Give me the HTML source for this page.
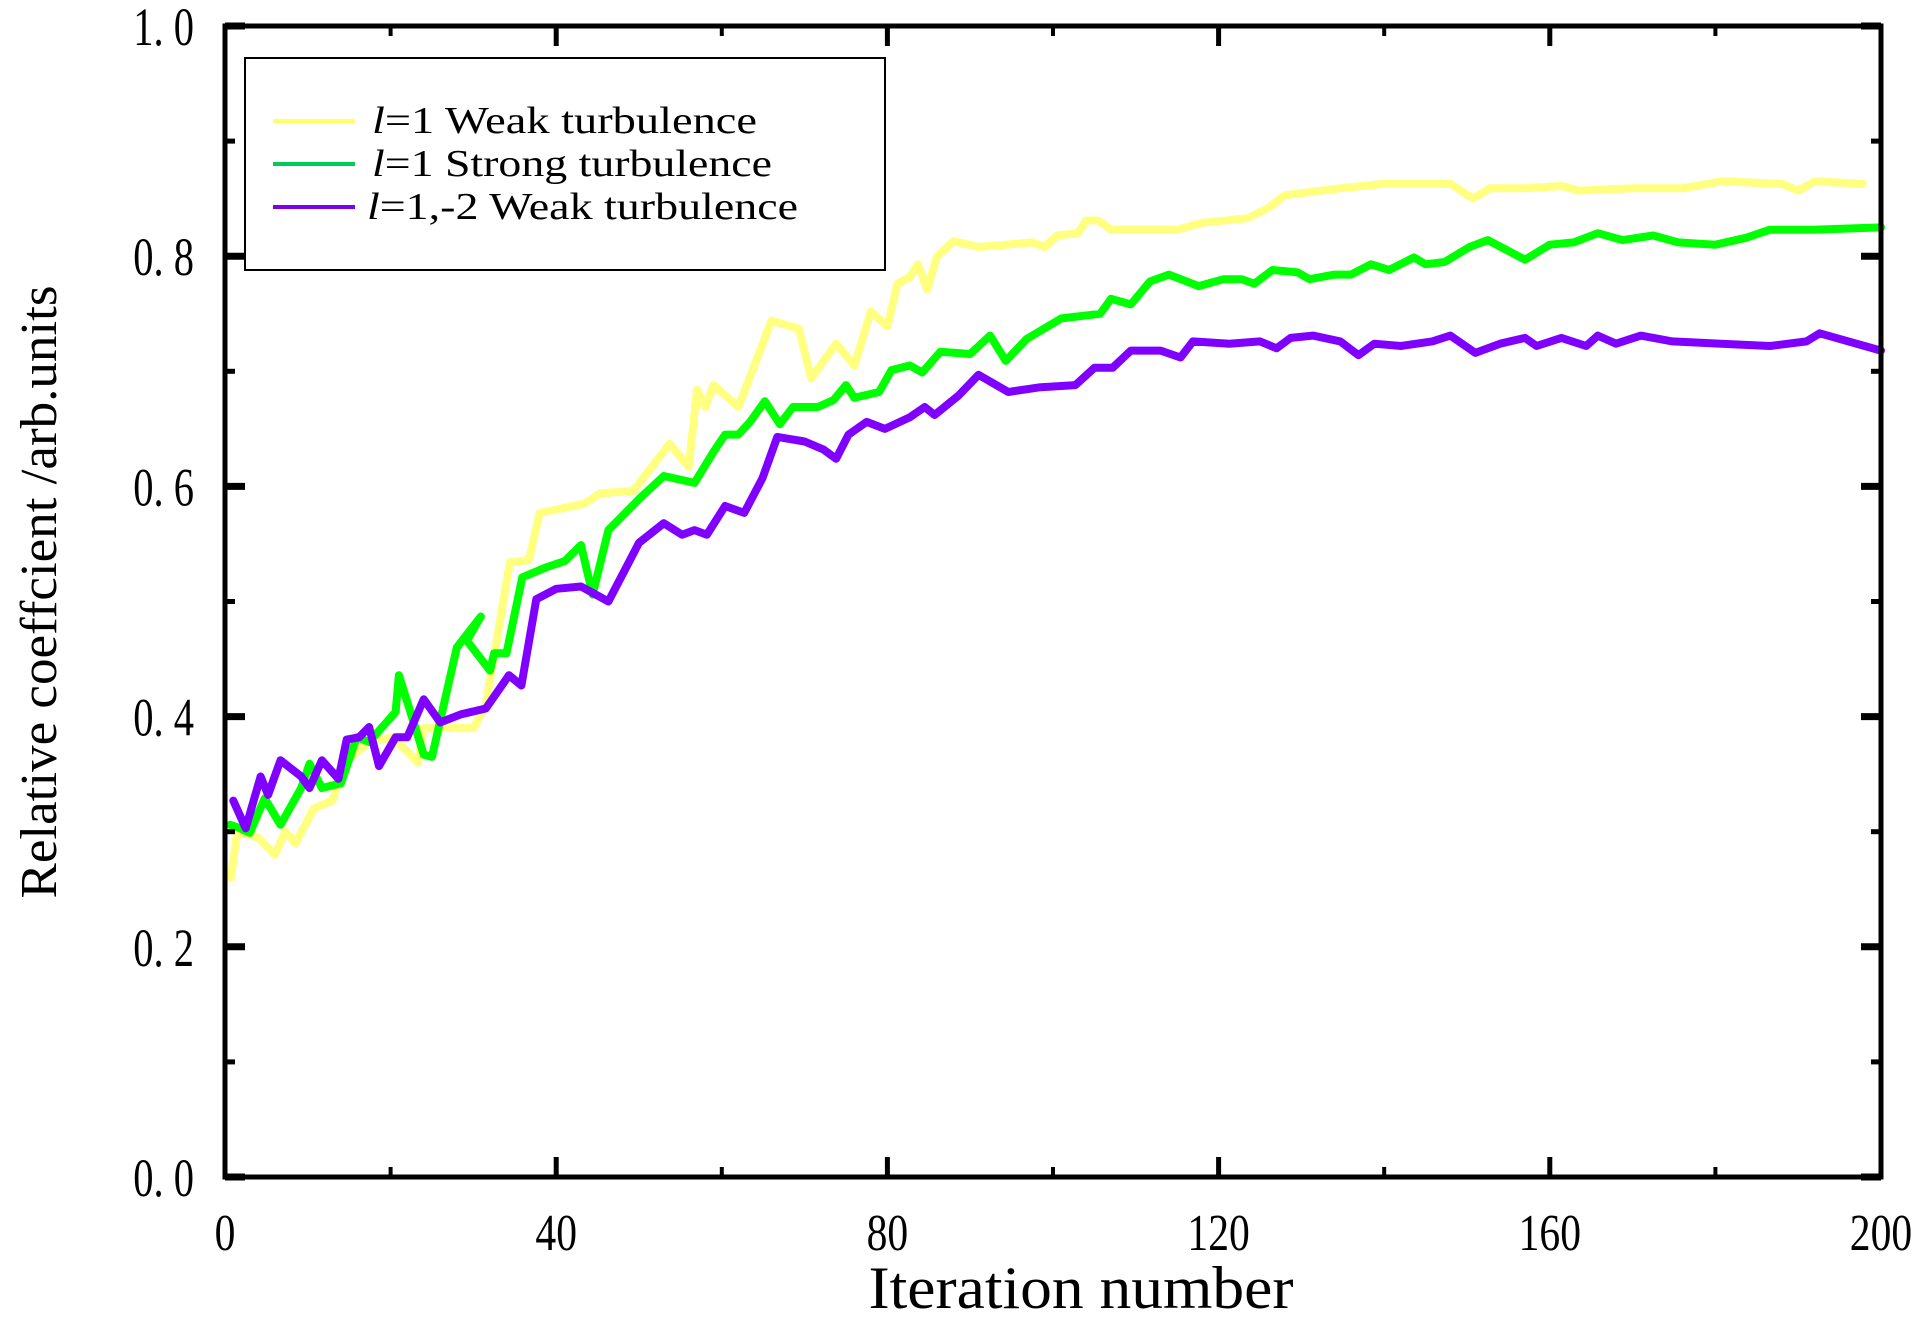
<!DOCTYPE html>
<html><head><meta charset="utf-8"><style>
html,body{margin:0;padding:0;background:#fff;}
svg{display:block;font-family:"Liberation Serif",serif;}
</style></head><body>
<svg id="chart" width="1930" height="1322" viewBox="0 0 1930 1322">
<g id="lines"></g>
<g id="axes"></g>
<g id="legend">
 <rect x="245" y="58" width="640" height="212" fill="#fff" stroke="#000" stroke-width="2"/>
 <line x1="273" y1="121" x2="355" y2="121" stroke="#ffff66" stroke-width="4"/>
 <text x="372" y="133" font-size="38" textLength="385" lengthAdjust="spacingAndGlyphs"><tspan font-style="italic">l</tspan>=1 Weak turbulence</text>
 <line x1="273" y1="164" x2="355" y2="164" stroke="#00cc55" stroke-width="4"/>
 <text x="372" y="176" font-size="38" textLength="400" lengthAdjust="spacingAndGlyphs"><tspan font-style="italic">l</tspan>=1 Strong turbulence</text>
 <line x1="273" y1="207" x2="355" y2="207" stroke="#7a00ee" stroke-width="4"/>
 <text x="367" y="219" font-size="38" textLength="431" lengthAdjust="spacingAndGlyphs"><tspan font-style="italic">l</tspan>=1,-2 Weak turbulence</text>
</g>
<text x="1081" y="1308" font-size="60" textLength="425" lengthAdjust="spacingAndGlyphs" text-anchor="middle">Iteration number</text>
<text transform="translate(56,592) rotate(-90)" font-size="52" textLength="613" lengthAdjust="spacingAndGlyphs" text-anchor="middle">Relative coeffcient /arb.units</text>
</svg>
<script>
const weakX=[0.7,1.5,4,6,7.3,8.5,10.7,13,14.4,17.4,20.3,23.3,24,30,31.5,34.4,36.7,38,43.4,45.3,49.3,53.7,56,57,58,59,62,66,69.3,70.8,73.8,76,78,80,81.2,82.7,83.7,84.8,86,88,91,97.5,99,100.5,103,104,105.5,107,111.7,115,118,123.5,126,128,134.7,140,148,150.7,152.8,157,161.4,163.6,170,176,180.7,188,190,192,197.8];
const weakY=[0.26,0.30,0.295,0.28,0.30,0.29,0.32,0.327,0.36,0.378,0.382,0.36,0.39,0.39,0.41,0.534,0.536,0.577,0.585,0.594,0.596,0.637,0.617,0.684,0.669,0.688,0.669,0.744,0.737,0.694,0.724,0.705,0.752,0.739,0.776,0.782,0.793,0.771,0.80,0.813,0.808,0.812,0.808,0.818,0.82,0.831,0.831,0.823,0.823,0.823,0.829,0.833,0.842,0.853,0.859,0.863,0.863,0.85,0.859,0.859,0.861,0.857,0.859,0.859,0.865,0.863,0.857,0.865,0.863];
const strongX=[0.6,1.8,3,4.8,6.7,9.2,10.2,11.7,14,15.9,17.4,20.6,21,24,25,28,30.9,29.2,32,32.5,34,35.9,38.9,41,43,44.4,46.3,50,53,56.7,59,60.4,62,63.4,65.2,67,68.6,71.6,73.5,75,76,79,80.5,82.7,84.2,86.4,90,92.4,94.3,96.8,101,105.7,107,109.4,111.7,114,117.6,120.6,122.8,124.3,126.5,129.5,131,134,136,138.4,140.6,143.6,145,147.3,150.3,152.5,157,160,162.9,165.8,168.8,172.5,175.5,180,183.7,186.6,191.8,200];
const strongY=[0.306,0.303,0.299,0.329,0.306,0.338,0.359,0.338,0.342,0.382,0.378,0.404,0.436,0.367,0.365,0.46,0.487,0.466,0.44,0.455,0.455,0.521,0.53,0.535,0.549,0.506,0.562,0.589,0.609,0.603,0.63,0.645,0.645,0.656,0.674,0.654,0.669,0.669,0.675,0.688,0.677,0.682,0.701,0.705,0.699,0.717,0.715,0.731,0.709,0.728,0.746,0.75,0.763,0.758,0.778,0.784,0.774,0.78,0.78,0.776,0.788,0.786,0.78,0.784,0.784,0.793,0.788,0.799,0.793,0.795,0.808,0.814,0.797,0.81,0.812,0.82,0.814,0.818,0.812,0.81,0.816,0.823,0.823,0.825];
const oamX=[1,2.5,4.3,5.2,6.7,9.2,10.2,11.7,13.7,14.7,16.2,17.4,18.6,20.6,22,24,26,28.5,31.5,34.3,35.8,37.6,40,43,46.3,50,53,55.2,56.7,58.2,60.4,62.7,64.9,66.7,70,72.3,73.8,75.3,77.5,79.7,82.7,84.5,85.7,88.6,91,94.6,98.3,102.7,105,107.2,109.4,113,115.4,116.9,121.3,125,127,128.7,131.4,134.7,136.9,138.8,142,145.8,148,151,154,157,158.4,161.4,164.4,165.8,168,171,174.8,180.7,186.6,191,192.6,200];
const oamY=[0.327,0.303,0.348,0.332,0.362,0.348,0.338,0.362,0.346,0.38,0.382,0.391,0.357,0.382,0.382,0.415,0.395,0.402,0.407,0.436,0.427,0.502,0.511,0.513,0.5,0.551,0.568,0.558,0.562,0.558,0.583,0.577,0.607,0.643,0.639,0.632,0.624,0.645,0.656,0.65,0.66,0.669,0.662,0.679,0.697,0.682,0.686,0.688,0.703,0.703,0.718,0.718,0.712,0.726,0.724,0.726,0.72,0.729,0.731,0.726,0.714,0.724,0.722,0.726,0.731,0.716,0.724,0.729,0.722,0.729,0.722,0.731,0.724,0.731,0.726,0.724,0.722,0.726,0.733,0.718];
const xTickLabels=["0","40","80","120","160","200"];
const yTickLabels=["0. 0","0. 2","0. 4","0. 6","0. 8","1. 0"];

const X0=225,X1=1881,Y0=1177,Y1=26;
function sx(v){return X0+(v/200)*(X1-X0);}
function sy(v){return Y0-v*(Y0-Y1);}
const NS="http://www.w3.org/2000/svg";
const linesG=document.getElementById('lines'),axesG=document.getElementById('axes');
function mk(tag,attrs,parent){const e=document.createElementNS(NS,tag);for(const k in attrs)e.setAttribute(k,attrs[k]);parent.appendChild(e);return e;}
function series(xs,ys,color,name){
  const d=xs.map((x,i)=>(i?'L':'M')+sx(x).toFixed(1)+' '+sy(ys[i]).toFixed(1)).join(' ');
  const p=mk('path',{d:d,fill:'none',stroke:color,'stroke-width':8,'stroke-linejoin':'round','stroke-linecap':'round'},linesG);
  
  
}
series(weakX,weakY,'#ffff80','series-l1-weak');
series(strongX,strongY,'#00ff00','series-l1-strong');
series(oamX,oamY,'#8000ff','series-l1m2-weak');

const frame=mk('rect',{x:X0,y:Y1,width:X1-X0,height:Y0-Y1,fill:'none',stroke:'#000','stroke-width':5},axesG);


for(let v=0;v<=200;v+=20){
  const major=v%40===0,L=major?20:10,x=sx(v);
  mk('line',{x1:x,y1:Y0,x2:x,y2:Y0-L,stroke:'#000','stroke-width':major?5:4},axesG);
  mk('line',{x1:x,y1:Y1,x2:x,y2:Y1+L,stroke:'#000','stroke-width':major?5:4},axesG);
}
for(let i=0;i<=10;i++){
  const v=i/10,major=i%2===0,L=major?20:10,y=sy(v);
  mk('line',{x1:X0,y1:y,x2:X0+L,y2:y,stroke:'#000','stroke-width':major?7:5},axesG);
  mk('line',{x1:X1,y1:y,x2:X1-L,y2:y,stroke:'#000','stroke-width':major?7:5},axesG);
}
xTickLabels.forEach((t,i)=>{
  const el=mk('text',{x:0,y:0,'font-size':52,'text-anchor':'middle',transform:'translate('+sx(i*40)+',1250) scale(0.8,1)'},axesG);
  el.textContent=t;
  
  
});
yTickLabels.forEach((t,i)=>{
  const el=mk('text',{x:0,y:0,'font-size':54,'text-anchor':'end',transform:'translate(194,'+(sy(i*0.2)+19)+') scale(0.75,1)'},axesG);
  el.textContent=t;
  
  
});
</script>
</body></html>
